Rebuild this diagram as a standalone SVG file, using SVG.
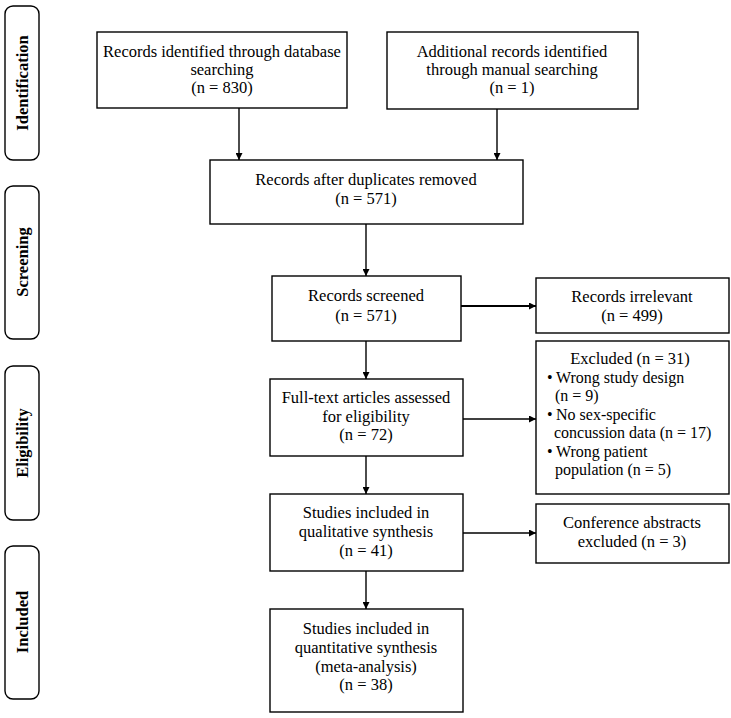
<svg xmlns="http://www.w3.org/2000/svg" width="731" height="718" viewBox="0 0 731 718">
<defs>
<marker id="ah" viewBox="0 0 10 10" refX="10" refY="5" markerWidth="7" markerHeight="7" markerUnits="userSpaceOnUse" orient="auto">
<path d="M0,0 L10,5 L0,10 z" fill="#000"/>
</marker>
<style>
.box{fill:#fff;stroke:#000;stroke-width:1.4}
.lab{fill:#fff;stroke:#000;stroke-width:1.4}
text{font-family:"Liberation Serif","Times New Roman",serif;font-size:16.5px;fill:#000}
.c{text-anchor:middle}
.s{font-size:16px}
.lt{font-weight:bold;font-size:16.5px;text-anchor:middle}
.con{stroke:#000;stroke-width:1.4;fill:none;marker-end:url(#ah)}
</style>
</defs>
<rect width="731" height="718" fill="#fff"/>

<g id="label-identification">
<rect class="lab" x="5" y="6" width="34" height="154" rx="8"/>
<text class="lt" transform="translate(28,83) rotate(-90)">Identification</text>
</g>
<g id="label-screening">
<rect class="lab" x="5" y="186" width="34" height="153" rx="8"/>
<text class="lt" transform="translate(28,262) rotate(-90)">Screening</text>
</g>
<g id="label-eligibility">
<rect class="lab" x="5" y="366" width="34" height="154" rx="8"/>
<text class="lt" transform="translate(28,443) rotate(-90)">Eligibility</text>
</g>
<g id="label-included">
<rect class="lab" x="5" y="546" width="34" height="153" rx="8"/>
<text class="lt" transform="translate(28,622) rotate(-90)">Included</text>
</g>

<g id="db">
<rect class="box" x="97" y="32" width="250" height="76"/>
<text class="c" x="222" y="57">Records identified through database</text>
<text class="c" x="222" y="75">searching</text>
<text class="c" x="222" y="93">(n = 830)</text>
</g>
<g id="manual">
<rect class="box" x="387" y="32" width="251" height="77"/>
<text class="c" x="512" y="57">Additional records identified</text>
<text class="c" x="512" y="75">through manual searching</text>
<text class="c" x="512" y="93">(n = 1)</text>
</g>
<g id="dedup">
<rect class="box" x="210" y="160" width="313" height="64"/>
<text class="c" x="366" y="185">Records after duplicates removed</text>
<text class="c" x="366" y="204">(n = 571)</text>
</g>
<g id="screened">
<rect class="box" x="272" y="276" width="189" height="65"/>
<text class="c" x="366" y="301">Records screened</text>
<text class="c" x="366" y="321">(n = 571)</text>
</g>
<g id="irrelevant">
<rect class="box" x="536" y="278" width="193" height="55"/>
<text class="c" x="632" y="302">Records irrelevant</text>
<text class="c" x="632" y="321">(n = 499)</text>
</g>
<g id="excluded">
<rect class="box" x="536" y="341" width="193" height="153"/>
<text class="c" x="630" y="364">Excluded (n = 31)</text>
<text class="s" x="547" y="383">•</text><text class="s" x="556" y="383">Wrong study design</text>
<text class="s" x="555" y="401">(n = 9)</text>
<text class="s" x="547" y="420">•</text><text class="s" x="556" y="420">No sex-specific</text>
<text class="s" x="554" y="438">concussion data (n = 17)</text>
<text class="s" x="547" y="457">•</text><text class="s" x="556" y="457">Wrong patient</text>
<text class="s" x="555" y="475">population (n = 5)</text>
</g>
<g id="fulltext">
<rect class="box" x="270" y="379" width="193" height="77"/>
<text class="c" x="366" y="403">Full-text articles assessed</text>
<text class="c" x="366" y="422">for eligibility</text>
<text class="c" x="366" y="440">(n = 72)</text>
</g>
<g id="qualitative">
<rect class="box" x="270" y="494" width="193" height="77"/>
<text class="c" x="366" y="518">Studies included in</text>
<text class="c" x="366" y="537">qualitative synthesis</text>
<text class="c" x="366" y="556">(n = 41)</text>
</g>
<g id="conference">
<rect class="box" x="536" y="504" width="193" height="59"/>
<text class="c" x="632" y="528">Conference abstracts</text>
<text class="c" x="632" y="547">excluded (n = 3)</text>
</g>
<g id="quantitative">
<rect class="box" x="270" y="609" width="193" height="103"/>
<text class="c" x="366" y="634">Studies included in</text>
<text class="c" x="366" y="653">quantitative synthesis</text>
<text class="c" x="366" y="672">(meta-analysis)</text>
<text class="c" x="366" y="690">(n = 38)</text>
</g>

<g id="connectors">
<line class="con" x1="239" y1="108" x2="239" y2="160"/>
<line class="con" x1="497" y1="109" x2="497" y2="160"/>
<line class="con" x1="366" y1="224" x2="366" y2="276"/>
<line class="con" x1="366" y1="341" x2="366" y2="379"/>
<line class="con" x1="366" y1="456" x2="366" y2="494"/>
<line class="con" x1="366" y1="571" x2="366" y2="609"/>
<line class="con" style="stroke-width:2" x1="461" y1="306" x2="536" y2="306"/>
<line class="con" x1="463" y1="419" x2="536" y2="419"/>
<line class="con" x1="463" y1="533" x2="536" y2="533"/>
</g>
</svg>
